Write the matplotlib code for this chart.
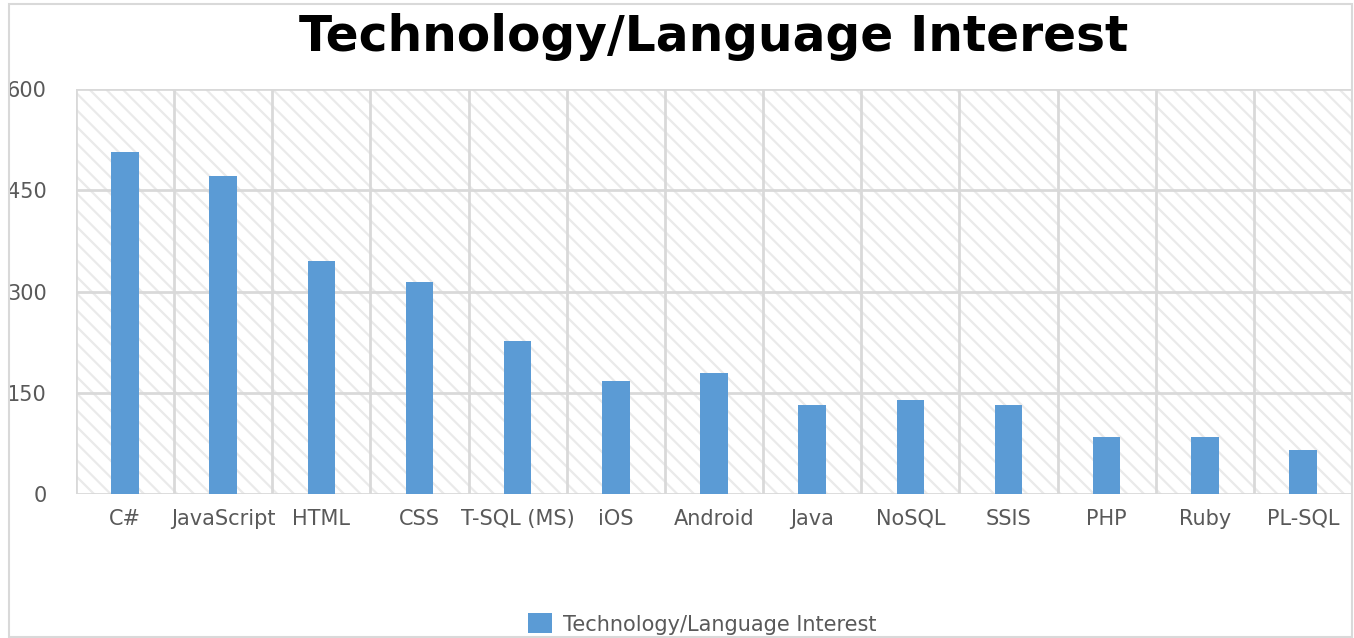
import matplotlib
matplotlib.use("Agg")
import matplotlib.pyplot as plt
from matplotlib.patches import Rectangle
import numpy as np

categories = ["C#", "JavaScript", "HTML", "CSS", "T-SQL (MS)", "iOS", "Android",
              "Java", "NoSQL", "SSIS", "PHP", "Ruby", "PL-SQL"]
values = [507, 471, 345, 314, 227, 167, 179, 132, 139, 132, 84, 84, 65]
yticks = [0, 150, 300, 450, 600]
title = "Technology/Language Interest"
series_name = "Technology/Language Interest"

W, H = 1354, 638
plt.rcParams['font.family'] = ['DejaVu Sans']
plt.rcParams['hatch.color'] = '#EAEAEA'
plt.rcParams['hatch.linewidth'] = 1.6

fig = plt.figure(figsize=(W / 100, H / 100), dpi=100)
fig.patch.set_facecolor('white')

# outer chart border
fig.patches.append(Rectangle((9 / W, 1 - 637 / H), (1352 - 9) / W, (637 - 4) / H,
                             transform=fig.transFigure, fill=False,
                             edgecolor='#D9D9D9', linewidth=1.5, zorder=0))

left, right, top, bottom = 76, 1352, 89, 494
ax = fig.add_axes([left / W, 1 - bottom / H, (right - left) / W, (bottom - top) / H])

n = len(categories)
x = np.arange(n)
ax.set_xlim(-0.5, n - 0.5)
ax.set_ylim(0, 600)

# hatched plot-area background
ax.add_patch(Rectangle((0, 0), 1, 1, transform=ax.transAxes, facecolor='white',
                       edgecolor='#EAEAEA', hatch='\\\\', linewidth=0, zorder=0))

for yv in yticks:
    ax.axhline(yv, color='#D9D9D9', linewidth=2, zorder=1)
for xv in np.arange(-0.5, n, 1.0):
    ax.axvline(xv, color='#D9D9D9', linewidth=2, zorder=1)

ax.bar(x, values, width=0.28, color='#5B9BD5', zorder=3, label=series_name)

ax.set_xticks(x)
ax.set_xticklabels(categories)
ax.set_yticks(yticks)
ax.set_yticklabels([str(v) for v in yticks])
ax.tick_params(axis='both', length=0, labelsize=15, labelcolor='#595959')
ax.tick_params(axis='x', pad=10.5)
ax.tick_params(axis='y', pad=21)
for s in ax.spines.values():
    s.set_visible(False)

fig.text((left + right) / 2 / W, 1 - 37 / H, title, ha='center', va='center',
         fontsize=35, fontweight='bold', color='black')

leg = fig.legend(loc='center', bbox_to_anchor=(702 / W, 1 - 624 / H), frameon=False,
                 fontsize=15, handlelength=1.15, handleheight=1.1, handletextpad=0.55)
for t in leg.get_texts():
    t.set_color('#595959')

fig.savefig('out.png', dpi=100, facecolor='white')
